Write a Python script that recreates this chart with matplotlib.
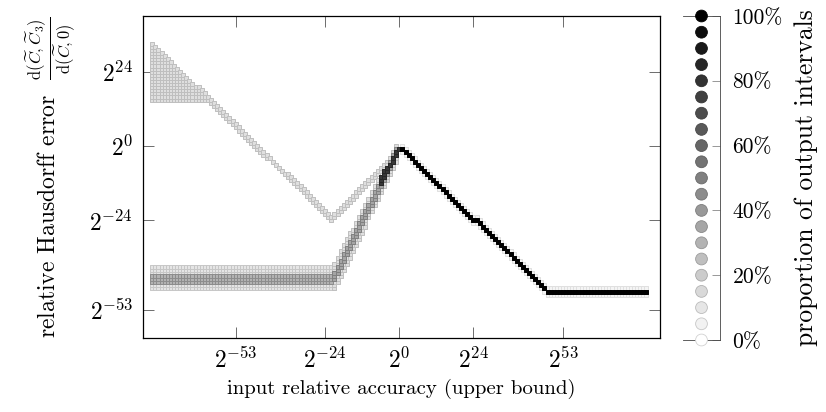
import numpy as np
import matplotlib.pyplot as plt

plt.rcParams['font.family'] = 'cmr10'
plt.rcParams['mathtext.fontset'] = 'cm'
plt.rcParams['axes.formatter.use_mathtext'] = True

# tick exponents (powers of two)
x_ticks = [-53, -24, 0, 24, 53]
y_ticks = [24, 0, -24, -53]

# proportion levels on the colour key
key_levels = [0, 5, 10, 15, 20, 25, 30, 35, 40, 45, 50, 55, 60, 65, 70, 75, 80, 85, 90, 95, 100]
key_ticks = [0, 20, 40, 60, 80, 100]

# cell bands: lower / upper edge breakpoints (log2 values)
# and the proportion of output intervals in that band
upper_lo_x = [-80, -62, -22, -1]
upper_lo_v = [15, 15, -24, -3]
upper_hi_x = [-80, -22, -1]
upper_hi_v = [33, -23, -2]
upper_p = 0.25

flat_lo_x = [-80, -22]
flat_lo_v = [-46, -46]
flat_hi_x = [-80, -22]
flat_hi_v = [-39, -39]
flat_p = 0.22

flat_core_lo_v = [-44, -44]
flat_core_hi_v = [-42, -42]
flat_core_p = 0.45

rise_lo_x = [-21, -1]
rise_lo_v = [-46, -5]
rise_hi_x = [-21, -1]
rise_hi_v = [-38, 0]
rise_p = 0.25

rise_core_lo_v = [-43, -3]
rise_core_hi_v = [-41, -1]
rise_core_p = 0.5

peak_x = [-6, 0]
peak_lo_v = [-12, -1]
peak_hi_v = [-10, -1]
peak_p = 0.85

fall_x = [1, 48, 80]
fall_v = [-1, -47, -47]
fall_p = 1.0
fringe_p = 0.12


def cells(lo_x, lo_v, hi_x, hi_v):
    xs, vs = [], []
    for x in range(min(lo_x[0], hi_x[0]), max(lo_x[-1], hi_x[-1]) + 1):
        lo = int(round(np.interp(x, lo_x, lo_v)))
        hi = int(round(np.interp(x, hi_x, hi_v)))
        for v in range(lo, hi + 1):
            xs.append(x)
            vs.append(v)
    return np.array(xs), np.array(vs)


bands = [
    (cells(upper_lo_x, upper_lo_v, upper_hi_x, upper_hi_v), upper_p),
    (cells(flat_lo_x, flat_lo_v, flat_hi_x, flat_hi_v), flat_p),
    (cells(rise_lo_x, rise_lo_v, rise_hi_x, rise_hi_v), rise_p),
    (cells(fall_x, np.array(fall_v) - 1, fall_x, np.array(fall_v) + 1), fringe_p),
    (cells(flat_lo_x, flat_core_lo_v, flat_hi_x, flat_core_hi_v), flat_core_p),
    (cells(rise_lo_x, rise_core_lo_v, rise_hi_x, rise_core_hi_v), rise_core_p),
    (cells(peak_x, peak_lo_v, peak_x, peak_hi_v), peak_p),
    (cells(fall_x, fall_v, fall_x, fall_v), fall_p),
]

fig = plt.figure(figsize=(8.26, 4.12), dpi=100)
ax = fig.add_axes([143 / 826, 1 - 338 / 412, 517 / 826, 322 / 412])

for (xs, vs), p in bands:
    g = 1 - p
    f = 1 - p ** 1.5
    ax.scatter(xs, vs, marker='s', s=5.0, facecolors=[(f, f, f)],
               edgecolors=[(g, g, g)], linewidths=0.7, zorder=2)

ax.set_xlim(-83, 84.4)
ax.set_ylim(-62, 42)
ax.set_xticks(x_ticks)
ax.set_xticklabels(['$2^{%d}$' % t for t in x_ticks])
ax.set_yticks(y_ticks)
ax.set_yticklabels(['$2^{%d}$' % t for t in y_ticks])
ax.tick_params(direction='in', length=7.7, width=0.6, color='#555555',
               top=True, right=True, labelsize=17, pad=7)
for s in ax.spines.values():
    s.set_linewidth(0.9)

ax.set_xlabel('input relative accuracy (upper bound)', fontsize=15, labelpad=4)
ax.set_ylabel(r'relative Hausdorff error  $\frac{\mathrm{d}(\widetilde{C},\widetilde{C}_3)}{\mathrm{d}(\widetilde{C},0)}$',
              fontsize=17, labelpad=8)

# colour key
cax = fig.add_axes([683 / 826, 1 - 340 / 412, 37 / 826, 324 / 412])
fills = [(1 - l / 100,) * 3 for l in key_levels]
edges = [(0.82 * (1 - l / 100),) * 3 for l in key_levels]
cax.scatter([0.5] * len(key_levels), key_levels, s=72, c=fills, edgecolors=edges,
            linewidths=0.6, clip_on=False, zorder=3)
cax.set_xlim(0, 1)
cax.set_ylim(0, 100)
cax.set_xticks([])
cax.spines['left'].set_visible(False)
for s in ['top', 'bottom', 'right']:
    cax.spines[s].set_linewidth(0.6)
    cax.spines[s].set_color('#444444')
cax.yaxis.tick_right()
cax.set_yticks(key_ticks)
cax.set_yticklabels(['%d%%' % t for t in key_ticks])
cax.tick_params(axis='y', direction='in', length=6, width=0.6, color='#888888',
                labelsize=15.5, pad=9)
cax.yaxis.set_label_position('right')
cax.set_ylabel('proportion of output intervals', fontsize=18.5, labelpad=8)

fig.savefig('out.png', dpi=100)
